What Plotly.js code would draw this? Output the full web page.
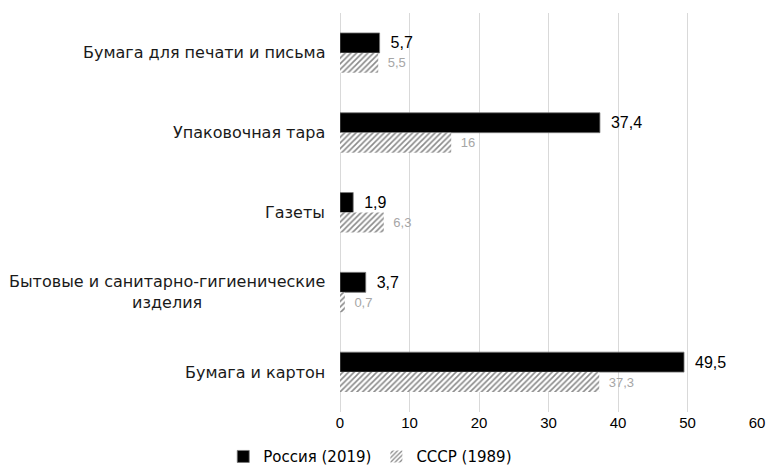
<!DOCTYPE html>
<html>
<head>
<meta charset="utf-8">
<script src="https://cdn.plot.ly/plotly-3.0.1.min.js"></script>
<style>html,body{margin:0;padding:0;background:#fff;}#chart{width:767px;height:470px;}</style>
</head>
<body>
<div id="chart"></div>
<script>
const categories = [
  "Бумага для печати и письма",
  "Упаковочная тара",
  "Газеты",
  "Бытовые и санитарно-гигиенические<br>изделия",
  "Бумага и картон"
];
const russia2019 = [5.7, 37.4, 1.9, 3.7, 49.5];
const ussr1989 = [5.5, 16, 6.3, 0.7, 37.3];
const seriesNames = ["Россия (2019)", "СССР (1989)"];
const xTicks = [0, 10, 20, 30, 40, 50, 60];

const fmt = v => "\u2002" + String(v).replace(".", ",");
const FONT = "Liberation Sans, Arial, Helvetica, sans-serif";
const WIDE = "DejaVu Sans, Liberation Sans, sans-serif";

const traces = [
  {
    type: "bar", orientation: "h", name: seriesNames[0],
    y: categories, x: russia2019,
    text: russia2019.map(fmt), textposition: "outside",
    textfont: {family: FONT, size: 16, color: "#000"},
    marker: {color: "#000", line: {color: "#777", width: 0.8}},
    cliponaxis: false, hoverinfo: "x+name"
  },
  {
    type: "bar", orientation: "h", name: seriesNames[1],
    y: categories, x: ussr1989,
    text: ussr1989.map(fmt), textposition: "outside",
    textfont: {family: FONT, size: 13, color: "#a6a6a6"},
    marker: {color: "#fff", line: {width: 0},
      pattern: {shape: "/", fgcolor: "#8a8a8a", bgcolor: "#ffffff", size: 4, solidity: 0.4}},
    cliponaxis: false, hoverinfo: "x+name"
  }
];

const annotations = categories.map(c => ({
  xref: "paper", yref: "y", x: 0, y: c, xanchor: "right", yanchor: "middle",
  xshift: -13, text: c, showarrow: false, align: "center",
  font: {family: WIDE, size: 16, color: "#1a1a1a"}
}));

const layout = {
  width: 767, height: 470,
  margin: {l: 340, r: 10, t: 13, b: 58, autoexpand: false},
  paper_bgcolor: "#fff", plot_bgcolor: "#fff",
  barmode: "group", bargap: 0.5, bargroupgap: 0,
  font: {family: FONT, color: "#000"},
  xaxis: {
    range: [0, 60], tickvals: xTicks, ticktext: xTicks.map(String),
    showgrid: true, gridcolor: "#d9d9d9", gridwidth: 1,
    zeroline: true, zerolinecolor: "#d9d9d9", zerolinewidth: 1,
    showline: false, ticks: "", automargin: false,
    tickfont: {family: FONT, size: 15, color: "#000"}
  },
  yaxis: {
    type: "category", autorange: "reversed", automargin: false,
    showticklabels: false, showgrid: false, zeroline: false, showline: false, ticks: ""
  },
  annotations: annotations,
  showlegend: true,
  legend: {
    orientation: "h", x: -0.28, xanchor: "left", y: -0.112, yanchor: "middle",
    font: {family: WIDE, size: 15, color: "#000"}, itemwidth: 30,
    traceorder: "normal"
  }
};

Plotly.newPlot("chart", traces, layout, {displayModeBar: false, staticPlot: true});
</script>
</body>
</html>
